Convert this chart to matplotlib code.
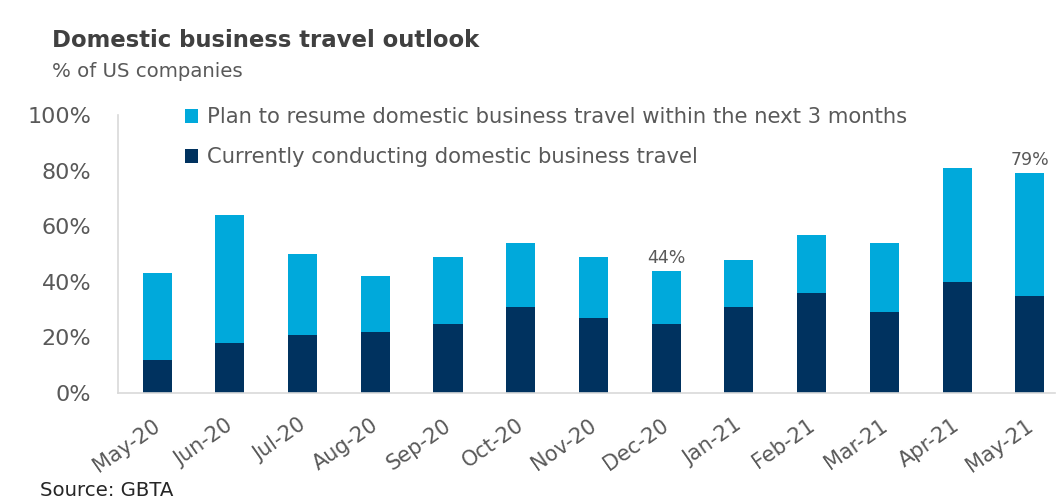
import matplotlib
matplotlib.use("Agg")
import matplotlib.pyplot as plt
from matplotlib.transforms import ScaledTranslation
import numpy as np

plt.rcParams['font.family'] = ['DejaVu Sans']

# survey months and share of companies (%)
months = ['May-20', 'Jun-20', 'Jul-20', 'Aug-20', 'Sep-20', 'Oct-20', 'Nov-20',
          'Dec-20', 'Jan-21', 'Feb-21', 'Mar-21', 'Apr-21', 'May-21']
current = [12, 18, 21, 22, 25, 31, 27, 25, 31, 36, 29, 40, 35]
total = [43, 64, 50, 42, 49, 54, 49, 44, 48, 57, 54, 81, 79]
plan = [t - c for t, c in zip(total, current)]
labelled = {'Dec-20': 44, 'May-21': 79}

light = '#00A9DB'
dark = '#00325F'
grey = '#595959'

fig = plt.figure(figsize=(10.61, 5.0), dpi=100)
ax = fig.add_axes([0.111, 0.214, 0.883, 0.556])

x = np.arange(len(months))
b_cur = ax.bar(x, current, width=0.4, color=dark, label='Currently conducting domestic business travel')
b_plan = ax.bar(x, plan, width=0.4, bottom=current, color=light,
                label='Plan to resume domestic business travel within the next 3 months')

for i, m in enumerate(months):
    if m in labelled:
        ax.text(i, total[i] + 1.5, '%d%%' % labelled[m], ha='center', va='bottom',
                fontsize=12.5, color=grey)

ax.set_xlim(-0.54, 12.34)
ax.set_ylim(0, 100)
ax.set_yticks([0, 20, 40, 60, 80, 100])
ax.set_yticklabels(['%d%%' % v for v in [0, 20, 40, 60, 80, 100]])
ax.set_xticks(x)
ax.set_xticklabels(months, rotation=35, ha='right', va='top', rotation_mode='anchor')
ax.tick_params(axis='y', length=0, pad=19, labelsize=16, labelcolor=grey)
ax.tick_params(axis='x', length=0, pad=16, labelsize=15, labelcolor=grey)
# pull month labels slightly left so they end just right of each bar
for lab in ax.get_xticklabels():
    lab.set_transform(lab.get_transform() + ScaledTranslation(-0.05, 0, fig.dpi_scale_trans))

for s in ['top', 'right']:
    ax.spines[s].set_visible(False)
for s in ['left', 'bottom']:
    ax.spines[s].set_color('#D9D9D9')
    ax.spines[s].set_linewidth(1.2)

leg = ax.legend(handles=[b_plan, b_cur], loc='upper left', bbox_to_anchor=(0.063, 1.058),
                frameon=False, fontsize=15.2, handlelength=0.6, handleheight=0.6,
                handletextpad=0.45, labelspacing=0.95, borderaxespad=0)
for t in leg.get_texts():
    t.set_color(grey)

fig.text(0.049, 0.906, 'Domestic business travel outlook', fontsize=16.4, fontweight='bold',
         color='#404040', ha='left', va='baseline')
fig.text(0.049, 0.846, '% of US companies', fontsize=14.2, color=grey, ha='left', va='baseline')
fig.text(0.038, 0.008, 'Source: GBTA', fontsize=14.2, color='#262626', ha='left', va='baseline')

fig.savefig('out.png', dpi=100)
